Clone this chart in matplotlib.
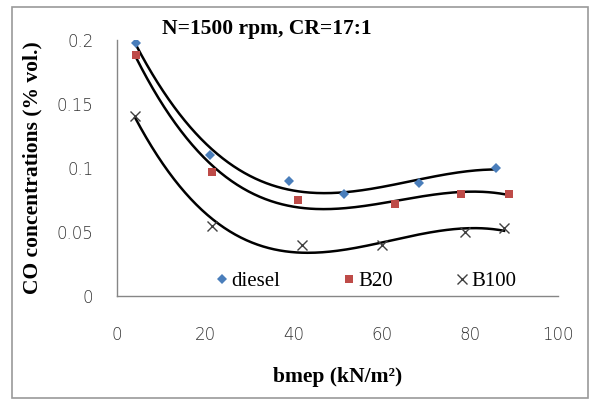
import numpy as np
import matplotlib.pyplot as plt
from matplotlib.patches import Rectangle

# Data
diesel_x = [4.3, 21.1, 39.1, 51.4, 68.4, 85.9]
diesel_y = [0.198, 0.110, 0.090, 0.080, 0.088, 0.100]

b20_x = [4.3, 21.6, 41.0, 63.0, 78.0, 88.9]
b20_y = [0.188, 0.097, 0.075, 0.072, 0.080, 0.080]

b100_x = [4.1, 21.6, 42.0, 60.2, 79.0, 87.8]
b100_y = [0.141, 0.055, 0.040, 0.040, 0.050, 0.053]

fig = plt.figure(figsize=(5.91, 4.01), dpi=100)
ax = fig.add_axes([0.198, 0.262, 0.746, 0.638])

# outer chart border
fig.patches.append(Rectangle((12 / 591, 3 / 401), 576 / 591, 391 / 401,
                             transform=fig.transFigure, fill=False,
                             edgecolor='#9a9a9a', linewidth=1.2))

series = [
    (diesel_x, diesel_y, 'D', '#4A7EBB', 'diesel', 5.5),
    (b20_x, b20_y, 's', '#BE4B48', 'B20', 6),
    (b100_x, b100_y, 'x', '#404040', 'B100', 7),
]

for xs, ys, m, c, lab, ms in series:
    ax.plot(xs, ys, linestyle='none', marker=m, color=c, markersize=ms,
            markeredgewidth=1.0 if m == 'x' else 0, label=lab)
    # cubic trendline (as in Excel)
    coef = np.polyfit(xs, ys, 3)
    xx = np.linspace(min(xs), max(xs), 200)
    ax.plot(xx, np.polyval(coef, xx), color='black', linewidth=1.8, zorder=1)

ax.set_xlim(0, 100)
ax.set_ylim(0, 0.2)
ax.set_xticks([0, 20, 40, 60, 80, 100])
ax.set_yticks([0, 0.05, 0.1, 0.15, 0.2])
ax.set_yticklabels(['0', '0.05', '0.1', '0.15', '0.2'])
ax.tick_params(length=0, labelsize=12, colors='#333333')
ax.tick_params(axis='x', pad=22)
ax.tick_params(axis='y', pad=17)
for lbl in ax.get_xticklabels() + ax.get_yticklabels():
    lbl.set_family('DejaVu Sans')
    lbl.set_fontweight('light')

for s in ['top', 'right']:
    ax.spines[s].set_visible(False)
for s in ['left', 'bottom']:
    ax.spines[s].set_color('#868686')
    ax.spines[s].set_linewidth(1.0)

ax.set_xlabel('bmep (kN/m²)', family='Liberation Serif',
              fontweight='bold', fontsize=15.5, labelpad=16)
ax.set_ylabel('CO concentrations (% vol.)', family='Liberation Serif',
              fontweight='bold', fontsize=15.5, labelpad=10)

fig.text(0.274, 0.928, 'N=1500 rpm, CR=17:1', family='Liberation Serif',
         fontweight='bold', fontsize=15.5, ha='left', va='center')

leg = ax.legend(loc='lower left', ncol=3, frameon=False,
                prop={'family': 'Liberation Serif', 'size': 15},
                handletextpad=0.05, columnspacing=2.9, handlelength=0.8,
                borderaxespad=0, bbox_to_anchor=(0.2, -0.015))

fig.savefig('out.png', dpi=100)
